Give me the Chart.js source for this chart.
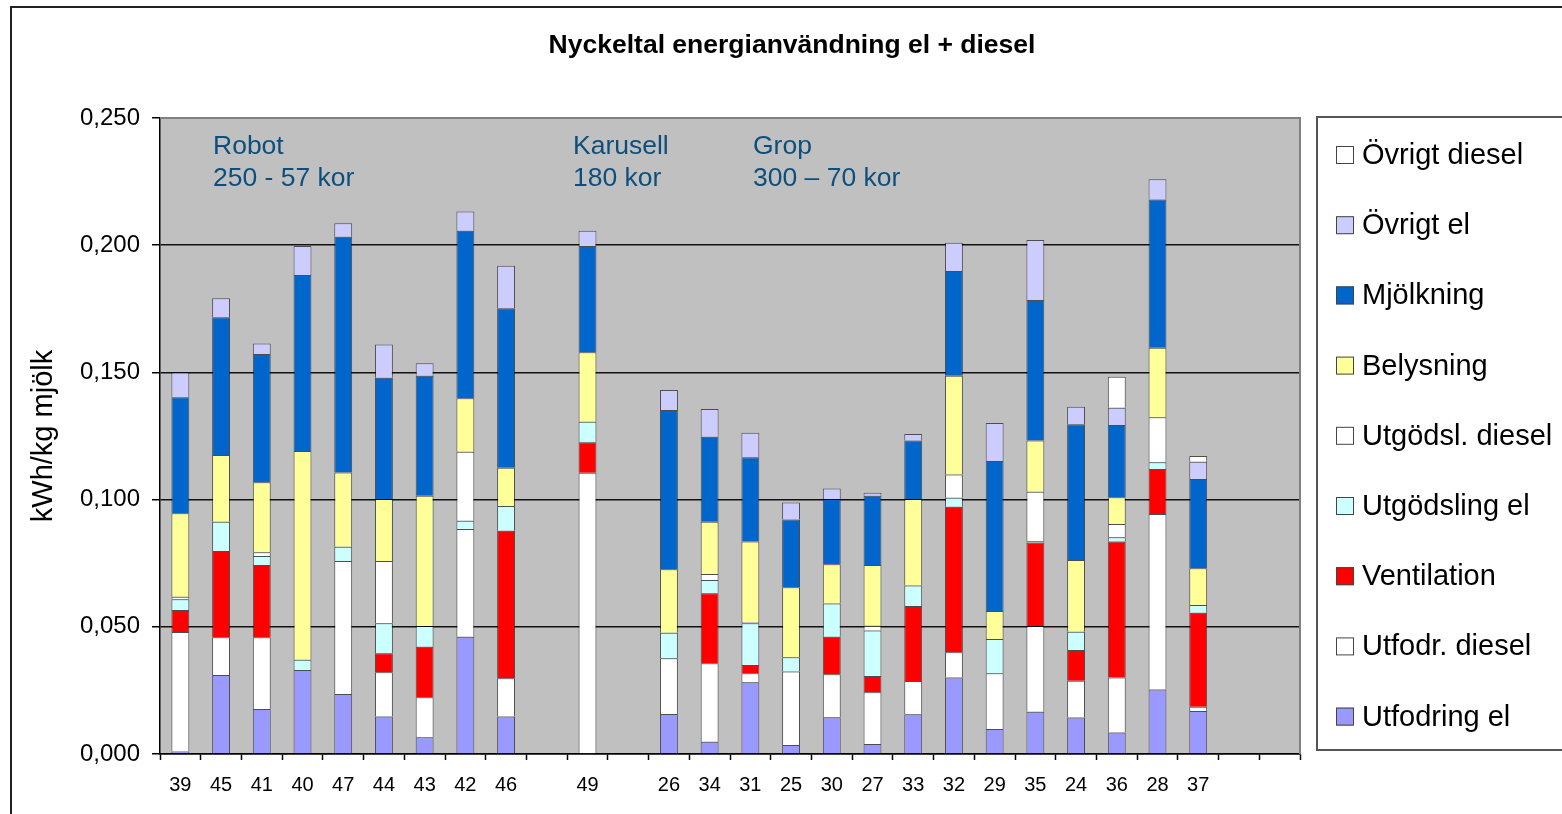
<!DOCTYPE html>
<html>
<head>
<meta charset="utf-8">
<script src="https://cdn.jsdelivr.net/npm/chart.js@4/dist/chart.umd.min.js"></script>
<style>
  html, body { margin: 0; padding: 0; background: #fff; }
  #contenitore { width: 1562px; height: 814px; }
</style>
</head>
<body>
<div id="contenitore"><canvas id="grafico" width="1562" height="814"></canvas></div>
<script>
// gårdar (kategorier), tomma platser mellan grupperna
var gardar = ['39','45','41','40','47','44','43','42','46','','49','','26','34','31','25','30','27','33','32','29','35','24','36','28','37','',''];

// serier, nedifrån och upp i stapeln (kWh/kg mjölk)
var utfodringEl    = [0.0010,0.0311,0.0177,0.0330,0.0236,0.0147,0.0066,0.0461,0.0147,null,0.0000,null,0.0157,0.0048,0.0282,0.0035,0.0144,0.0039,0.0156,0.0301,0.0098,0.0166,0.0143,0.0085,0.0254,0.0169,null,null];
var utfodrDiesel   = [0.0470,0.0148,0.0282,0.0000,0.0523,0.0174,0.0157,0.0423,0.0151,null,0.1106,null,0.0219,0.0309,0.0035,0.0289,0.0169,0.0204,0.0131,0.0099,0.0219,0.0337,0.0145,0.0216,0.0689,0.0017,null,null];
var ventilation    = [0.0086,0.0339,0.0284,0.0000,0.0000,0.0075,0.0199,0.0000,0.0580,null,0.0119,null,0.0000,0.0275,0.0033,0.0000,0.0148,0.0064,0.0295,0.0572,0.0000,0.0328,0.0121,0.0534,0.0177,0.0369,null,null];
var utgodslingEl   = [0.0042,0.0115,0.0035,0.0040,0.0056,0.0118,0.0081,0.0033,0.0097,null,0.0081,null,0.0101,0.0052,0.0164,0.0056,0.0131,0.0178,0.0080,0.0035,0.0135,0.0005,0.0072,0.0017,0.0027,0.0031,null,null];
var utgodslDiesel  = [0.0010,0.0000,0.0015,0.0000,0.0000,0.0245,0.0000,0.0271,0.0000,null,0.0000,null,0.0000,0.0024,0.0005,0.0000,0.0000,0.0019,0.0000,0.0092,0.0000,0.0195,0.0000,0.0052,0.0177,0.0000,null,null];
var belysning      = [0.0328,0.0262,0.0275,0.0821,0.0292,0.0243,0.0512,0.0210,0.0150,null,0.0273,null,0.0249,0.0205,0.0316,0.0275,0.0154,0.0239,0.0340,0.0388,0.0110,0.0201,0.0282,0.0105,0.0273,0.0144,null,null];
var mjolkning      = [0.0456,0.0542,0.0504,0.0692,0.0926,0.0477,0.0472,0.0659,0.0627,null,0.0418,null,0.0626,0.0334,0.0331,0.0267,0.0256,0.0272,0.0230,0.0412,0.0590,0.0553,0.0533,0.0284,0.0583,0.0351,null,null];
var ovrigtEl       = [0.0098,0.0074,0.0042,0.0114,0.0053,0.0131,0.0049,0.0075,0.0167,null,0.0060,null,0.0079,0.0109,0.0097,0.0067,0.0042,0.0012,0.0026,0.0111,0.0149,0.0235,0.0069,0.0068,0.0079,0.0068,null,null];
var ovrigtDiesel   = [0,0,0,0,0,0,0,0,0,null,0,null,0,0,0,0,0,0,0,0,0,0,0,0.0122,0,0.0022,null,null];

var serieNamn  = ['Utfodring el','Utfodr. diesel','Ventilation','Utgödsling el','Utgödsl. diesel','Belysning','Mjölkning','Övrigt el','Övrigt diesel'];
var serieFarg  = ['#9999FF','#FFFFFF','#FF0000','#CCFFFF','#FFFFFF','#FFFF99','#0066CC','#CCCCFF','#FFFFFF'];
var serieData  = [utfodringEl, utfodrDiesel, ventilation, utgodslingEl, utgodslDiesel, belysning, mjolkning, ovrigtEl, ovrigtDiesel];

var yEtiketter = ['0,000','0,050','0,100','0,150','0,200','0,250'];
var rubrik = 'Nyckeltal energianvändning el + diesel';
var yRubrik = 'kWh/kg mjölk';
var grupper = [['Robot','250 - 57 kor'], ['Karusell','180 kor'], ['Grop','300 \u2013 70 kor']];

var dataset = [];
for (var i = 0; i < serieData.length; i++) {
  dataset.push({
    label: serieNamn[i],
    data: serieData[i],
    backgroundColor: serieFarg[i],
    borderColor: 'rgba(0,0,0,0.6)',
    borderWidth: 1,
    barPercentage: 0.44,
    categoryPercentage: 1
  });
}

// bakgrund, ram, titel, legend och gruppnamn
var ritaExtra = {
  id: 'ritaExtra',
  beforeDraw: function(chart) {
    var ctx = chart.ctx, a = chart.chartArea;
    ctx.save();
    ctx.fillStyle = '#fff';
    ctx.fillRect(0, 0, chart.width, chart.height);
    ctx.fillStyle = '#C0C0C0';
    ctx.fillRect(a.left, a.top, a.right - a.left, a.bottom - a.top);
    ctx.restore();
  },
  afterDraw: function(chart) {
    var ctx = chart.ctx, a = chart.chartArea;
    ctx.save();
    // plot-ram
    ctx.strokeStyle = '#808080';
    ctx.lineWidth = 2;
    ctx.beginPath();
    ctx.moveTo(a.left, a.top);
    ctx.lineTo(a.right, a.top);
    ctx.lineTo(a.right, a.bottom);
    ctx.stroke();
    // yttre ram
    ctx.strokeStyle = '#222';
    ctx.lineWidth = 2;
    ctx.strokeRect(11, 7, 1600, 900);
    // titel
    ctx.fillStyle = '#000';
    ctx.font = 'bold 26.5px "Liberation Sans", Arial, sans-serif';
    ctx.textAlign = 'center';
    ctx.textBaseline = 'middle';
    ctx.fillText(rubrik, 792, 46);
    // gruppnamn
    ctx.fillStyle = '#0D4F7C';
    ctx.font = '26.5px "Liberation Sans", Arial, sans-serif';
    ctx.textAlign = 'left';
    var gx = [a.left + 53, a.left + 413, a.left + 593];
    for (var g = 0; g < grupper.length; g++) {
      ctx.fillText(grupper[g][0], gx[g], a.top + 29);
      ctx.fillText(grupper[g][1], gx[g], a.top + 61);
    }
    // legend
    var lx = a.right + 17, ly = a.top - 1;
    ctx.strokeStyle = '#555';
    ctx.lineWidth = 2;
    ctx.strokeRect(lx, ly, 400, 633);
    ctx.font = '29px "Liberation Sans", Arial, sans-serif';
    ctx.textBaseline = 'middle';
    var n = chart.data.datasets.length;
    for (var k = 0; k < n; k++) {
      var ds = chart.data.datasets[n - 1 - k];
      var cy = ly + 38 + k * 70.2;
      ctx.fillStyle = ds.backgroundColor;
      ctx.fillRect(lx + 19, cy - 9, 18, 18);
      ctx.strokeStyle = '#444';
      ctx.lineWidth = 1;
      ctx.strokeRect(lx + 19.5, cy - 8.5, 17, 17);
      ctx.fillStyle = '#000';
      ctx.fillText(ds.label, lx + 45, cy + 1);
    }
    ctx.restore();
  }
};

var grafico = new Chart(document.getElementById('grafico').getContext('2d'), {
  type: 'bar',
  data: { labels: gardar, datasets: dataset },
  plugins: [ritaExtra],
  options: {
    responsive: false,
    animation: false,
    devicePixelRatio: 1,
    layout: { padding: { left: 20, top: 118, right: 262, bottom: 10 } },
    plugins: {
      legend: { display: false },
      title: { display: false },
      tooltip: { enabled: false }
    },
    scales: {
      x: {
        stacked: true,
        afterFit: function(scale) { scale.height = 50; },
        grid: { display: true, drawOnChartArea: false, offset: true, tickLength: 6, tickColor: '#000', tickWidth: 1.5 },
        border: { display: true, color: '#000', width: 1.5 },
        ticks: { color: '#000', padding: 13, maxRotation: 0, autoSkip: false,
                 font: { family: '"Liberation Sans", Arial, sans-serif', size: 20 } }
      },
      y: {
        stacked: true,
        min: 0,
        max: 0.25,
        afterFit: function(scale) { scale.width = 140; },
        grid: {
          color: function(c) { return c.tick && c.tick.value >= 0.25 ? 'rgba(0,0,0,0)' : '#111'; },
          lineWidth: 1.5,
          tickLength: 8,
          tickColor: '#000'
        },
        border: { display: true, color: '#000', width: 1.5 },
        ticks: {
          stepSize: 0.05,
          padding: 12,
          color: '#000',
          font: { family: '"Liberation Sans", Arial, sans-serif', size: 24 },
          callback: function(v, idx) { return yEtiketter[idx]; }
        },
        title: {
          display: true,
          text: yRubrik,
          color: '#000',
          padding: { top: 7, bottom: 0 },
          font: { family: '"Liberation Sans", Arial, sans-serif', size: 29 }
        }
      }
    }
  }
});
</script>
</body>
</html>
